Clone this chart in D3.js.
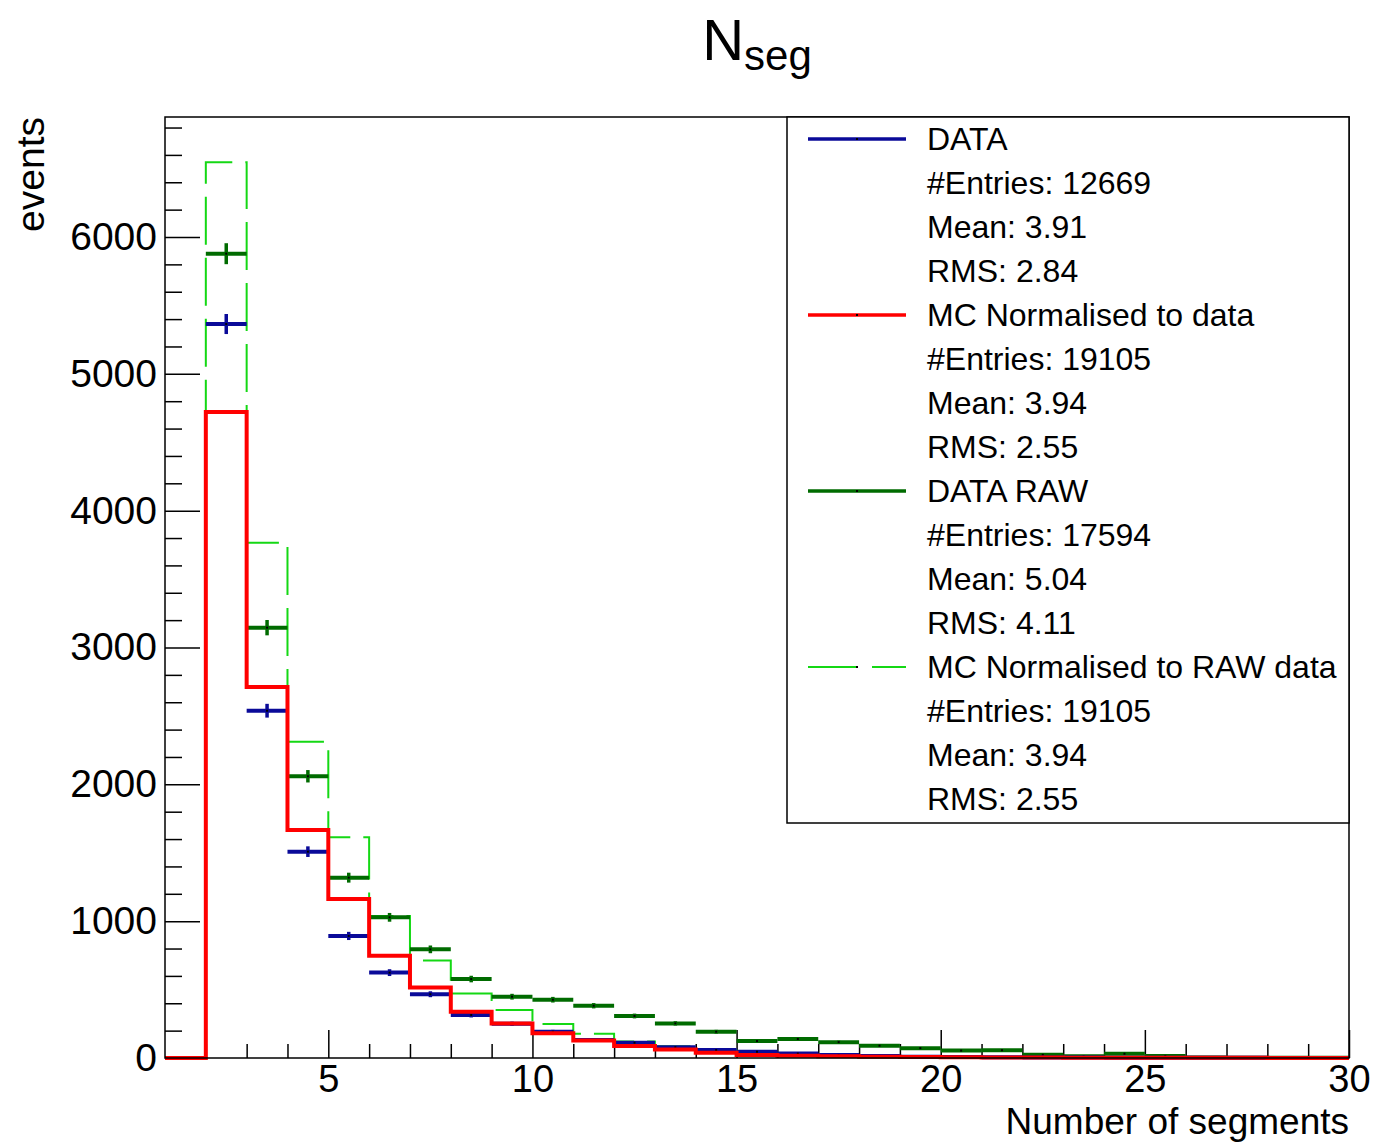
<!DOCTYPE html>
<html>
<head>
<meta charset="utf-8">
<script src="https://cdn.jsdelivr.net/npm/d3@7"></script>
<style>
  body { margin: 0; background: #fff; }
  text { font-family: "Liberation Sans", Arial, Helvetica, sans-serif; fill: #000; }
</style>
</head>
<body>
<div id="chart"></div>
<script>
// bin low edges (bins of width 1 from 1 to 30)
var binLow = [1,2,3,4,5,6,7,8,9,10,11,12,13,14,15,16,17,18,19,20,21,22,23,24,25,26,27,28,29];

// DATA (blue points)
var dataVals = [0,5364,2538,1508,892,624,466,314,250,192,132,112,78,58,46,32,22,15,10,8,6,4,3,2,2,1,1,0,0];
// MC normalised to data (red hist)
var mcVals = [0,4721,2711,1666,1162,747,516,338,253,180,127,88,63,39,22,17,12,9,7,5,4,3,2,2,1,1,1,0,0];
// DATA RAW (dark green points)
var rawVals = [0,5878,3145,2059,1318,1028,794,577,448,426,382,307,253,192,124,139,116,90,72,54,57,23,13,31,15,4,2,1,1];
// MC normalised to RAW data (light green dashed hist)
var mcRawVals = [0,6546,3766,2312,1613,1037,712,471,351,248,178,121,86,54,31,24,17,13,10,7,5,4,3,2,2,1,1,0,0];

var yMajor = [0,1000,2000,3000,4000,5000,6000];
var xMajor = [5,10,15,20,25,30];

var legendRows = [
  {text: "DATA", key: "data"},
  {text: "#Entries: 12669"},
  {text: "Mean: 3.91"},
  {text: "RMS: 2.84"},
  {text: "MC Normalised to data", key: "mc"},
  {text: "#Entries: 19105"},
  {text: "Mean: 3.94"},
  {text: "RMS: 2.55"},
  {text: "DATA RAW", key: "raw"},
  {text: "#Entries: 17594"},
  {text: "Mean: 5.04"},
  {text: "RMS: 4.11"},
  {text: "MC Normalised to RAW data", key: "mcraw"},
  {text: "#Entries: 19105"},
  {text: "Mean: 3.94"},
  {text: "RMS: 2.55"}
];

var colors = {data: "#0a0a99", mc: "#ff0000", raw: "#006b00", mcraw: "#14d814"};

var W = 1374, H = 1143;
var frame = {left: 165, right: 1349, top: 117, bottom: 1058};

var svg = d3.select("#chart").append("svg")
    .attr("width", W)
    .attr("height", H);

var x = d3.scaleLinear().domain([1, 30]).range([frame.left, frame.right]);
var y = d3.scaleLinear().domain([0, 6877]).range([frame.bottom, frame.top]);

// minor tick values
var yMinor = d3.range(0, 6877, 200).filter(function(v) { return v % 1000 != 0; });
var xMinor = d3.range(2, 30).filter(function(v) { return v % 5 != 0; });

// y axis
svg.append("g")
    .attr("class", "y axis")
    .attr("transform", "translate(" + frame.left + ",0)")
    .call(d3.axisLeft(y).tickValues(yMajor).tickSize(-35).tickPadding(8).tickFormat(d3.format("d")));
svg.append("g")
    .attr("transform", "translate(" + frame.left + ",0)")
    .call(d3.axisLeft(y).tickValues(yMinor).tickSize(-17).tickFormat(""));

// x axis
svg.append("g")
    .attr("class", "x axis")
    .attr("transform", "translate(0," + frame.bottom + ")")
    .call(d3.axisBottom(x).tickValues(xMajor).tickSize(-28).tickPadding(7).tickFormat(d3.format("d")));
svg.append("g")
    .attr("transform", "translate(0," + frame.bottom + ")")
    .call(d3.axisBottom(x).tickValues(xMinor).tickSize(-14).tickFormat(""));

svg.selectAll(".domain").remove();
svg.selectAll(".tick line").attr("stroke", "#000").attr("stroke-width", 1.5);
svg.selectAll(".tick text")
    .style("font-family", "'Liberation Sans', Arial, Helvetica, sans-serif")
    .attr("fill", "#000");
svg.selectAll(".y.axis .tick text").style("font-size", "39px");
svg.selectAll(".x.axis .tick text").style("font-size", "38px");

// step paths
function histPoints(vals) {
  var pts = binLow.map(function(b, i) { return {x: b, v: vals[i]}; });
  pts.push({x: 30, v: vals[vals.length - 1]});
  return pts;
}
var stepLine = d3.line()
    .x(function(d) { return x(d.x); })
    .y(function(d) { return y(d.v); })
    .curve(d3.curveStepAfter);

// MC normalised to RAW data
svg.append("path")
    .datum(histPoints(mcRawVals))
    .attr("d", stepLine)
    .attr("fill", "none")
    .attr("stroke", colors.mcraw)
    .attr("stroke-width", 2)
    .attr("stroke-dasharray", "48,13");

// points with error bars
function drawPoints(vals, color) {
  var g = svg.append("g");
  var pts = binLow.map(function(b, i) { return {x: b, v: vals[i]}; })
      .filter(function(d) { return d.v > 0; });
  g.selectAll(".hbar").data(pts).enter().append("line")
      .attr("x1", function(d) { return x(d.x); })
      .attr("x2", function(d) { return x(d.x + 1); })
      .attr("y1", function(d) { return y(d.v); })
      .attr("y2", function(d) { return y(d.v); })
      .attr("stroke", color)
      .attr("stroke-width", 4);
  g.selectAll(".vbar").data(pts).enter().append("line")
      .attr("x1", function(d) { return x(d.x + 0.5); })
      .attr("x2", function(d) { return x(d.x + 0.5); })
      .attr("y1", function(d) { return y(d.v + Math.sqrt(d.v)); })
      .attr("y2", function(d) { return y(d.v - Math.sqrt(d.v)); })
      .attr("stroke", color)
      .attr("stroke-width", 3.5);
  g.selectAll(".dot").data(pts).enter().append("rect")
      .attr("x", function(d) { return x(d.x + 0.5) - 1; })
      .attr("y", function(d) { return y(d.v) - 1; })
      .attr("width", 2)
      .attr("height", 2)
      .attr("fill", "#000");
}

drawPoints(rawVals, colors.raw);
drawPoints(dataVals, colors.data);

// MC normalised to data
svg.append("path")
    .datum(histPoints(mcVals))
    .attr("d", stepLine)
    .attr("fill", "none")
    .attr("stroke", colors.mc)
    .attr("stroke-width", 4);

// frame
svg.append("rect")
    .attr("x", frame.left)
    .attr("y", frame.top)
    .attr("width", frame.right - frame.left)
    .attr("height", frame.bottom - frame.top)
    .attr("fill", "none")
    .attr("stroke", "#000")
    .attr("stroke-width", 1.5);

// legend
var leg = svg.append("g");
leg.append("rect")
    .attr("x", 787)
    .attr("y", frame.top)
    .attr("width", frame.right - 787)
    .attr("height", 706)
    .attr("fill", "#fff")
    .attr("stroke", "#000")
    .attr("stroke-width", 1.5);

legendRows.forEach(function(r, i) {
  var cy = 139 + i * 44;
  leg.append("text")
      .attr("x", 927)
      .attr("y", cy + 11)
      .style("font-size", "32px")
      .text(r.text);
  if (r.key) {
    var ln = leg.append("line")
        .attr("x1", 808).attr("x2", 906)
        .attr("y1", cy).attr("y2", cy)
        .attr("stroke", colors[r.key])
        .attr("stroke-width", r.key == "mcraw" ? 2 : 3.5);
    if (r.key == "mcraw") ln.attr("stroke-dasharray", "48,16");
    leg.append("rect")
        .attr("x", 856).attr("y", cy - 1)
        .attr("width", 2).attr("height", 2)
        .attr("fill", "#000");
  }
});

// title
var title = svg.append("text")
    .attr("x", (frame.left + frame.right) / 2)
    .attr("y", 60)
    .attr("text-anchor", "middle");
title.append("tspan").style("font-size", "58px").text("N");
title.append("tspan").style("font-size", "42px").attr("dy", 10).text("seg");

// axis titles
svg.append("text")
    .attr("x", frame.right)
    .attr("y", 1134)
    .attr("text-anchor", "end")
    .style("font-size", "37px")
    .text("Number of segments");

svg.append("text")
    .attr("transform", "translate(44," + frame.top + ") rotate(-90)")
    .attr("text-anchor", "end")
    .style("font-size", "39px")
    .text("events");
</script>
</body>
</html>
